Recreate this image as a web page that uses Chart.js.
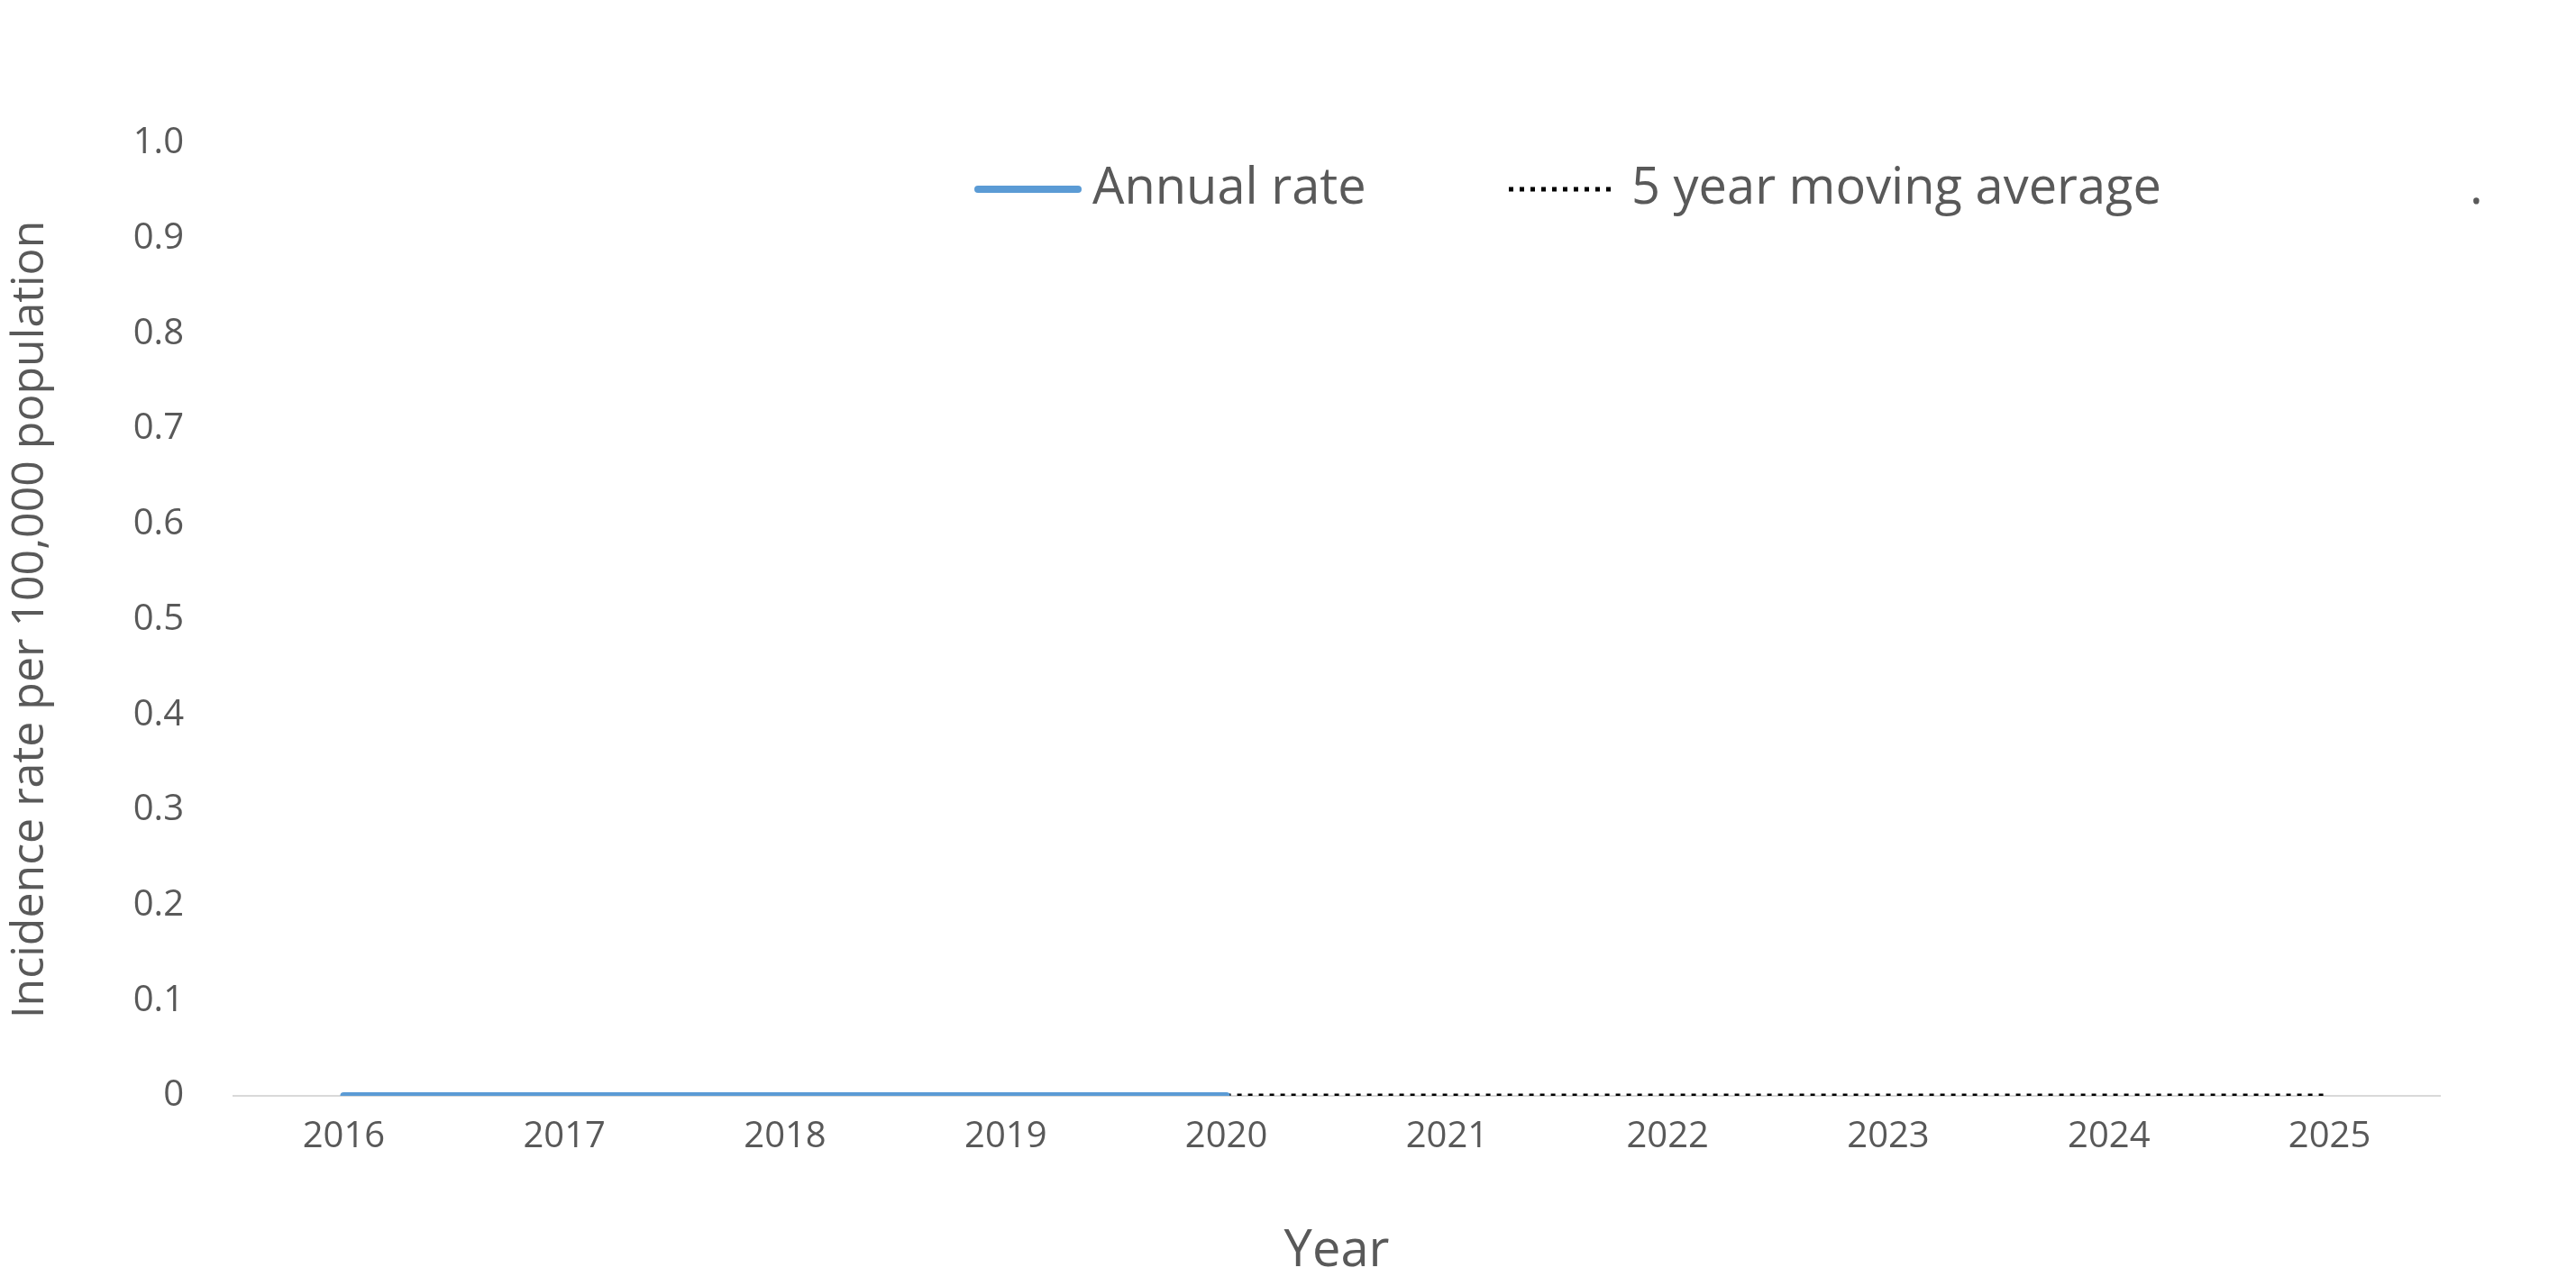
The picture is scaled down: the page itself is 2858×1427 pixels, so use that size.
<!DOCTYPE html>
<html><head><meta charset="utf-8">
<script src="https://cdn.jsdelivr.net/npm/chart.js@4"></script>
<style>html,body{margin:0;padding:0;background:#fff}#w{width:2858px;height:1427px}</style>
</head><body><div id="w"><canvas id="c"></canvas></div>
<script>
const years = ['2016','2017','2018','2019','2020','2021','2022','2023','2024','2025'];
const annualRate = [0,0,0,0,0,null,null,null,null,null];
const movingAvg = [null,null,null,null,0,0,0,0,0,0];
const yTicks = [0,0.1,0.2,0.3,0.4,0.5,0.6,0.7,0.8,0.9,1];
const FONT = "'Open Sans', 'Liberation Sans', sans-serif";
const legendPlugin = {
  id:'manualLegend',
  afterDraw(chart){
    const ctx = chart.ctx; ctx.save();
    ctx.font = "56px " + FONT; ctx.fillStyle = '#595959'; ctx.textBaseline='middle';
    const y = 210;
    ctx.strokeStyle = '#5b9bd5'; ctx.lineWidth = 8; ctx.lineCap='round';
    ctx.beginPath(); ctx.moveTo(1085,y); ctx.lineTo(1196,y); ctx.stroke();
    ctx.fillText(chart.data.datasets[0].label, 1212, y);
    ctx.strokeStyle = '#000'; ctx.lineWidth = 5; ctx.setLineDash([5,7]); ctx.lineCap='butt';
    ctx.beginPath(); ctx.moveTo(1674,y); ctx.lineTo(1790,y); ctx.stroke();
    ctx.fillText(chart.data.datasets[1].label, 1810, y);
    ctx.fillText(chart.data.datasets[2].label, 2740, y);
    ctx.restore();
  }
};
new Chart(document.getElementById('c'), {
  type:'line',
  data:{labels:years, datasets:[
    {label:'Annual rate', data:annualRate, borderColor:'#5b9bd5', borderWidth:8, pointRadius:0, borderCapStyle:'round'},
    {label:'5 year moving average', data:movingAvg, borderColor:'#000', borderWidth:5, borderDash:[5,7], pointRadius:0},
    {label:'.', data:[], borderColor:'rgba(0,0,0,0)'}
  ]},
  options:{
    responsive:true, maintainAspectRatio:false, animation:false,
    layout:{padding:{top:159,right:151,left:0,bottom:0}},
    plugins:{legend:{display:false}, tooltip:{enabled:false}},
    scales:{
      x:{offset:true, grid:{display:false, drawTicks:false}, border:{color:'#d9d9d9', width:2},
         ticks:{color:'#595959', font:{family:FONT, size:40}, padding:22},
         title:{display:true, text:'Year', color:'#595959', font:{family:FONT, size:56}, padding:{top:8}},
         afterFit(s){ s.height = 211; }},
      y:{min:0, max:1, afterBuildTicks(s){ s.ticks = yTicks.map(v=>({value:v})); },
         grid:{display:false, drawTicks:false}, border:{display:false},
         ticks:{color:'#595959', font:{family:FONT, size:40}, padding:55},
         title:{display:true, text:'Incidence rate per 100,000 population', color:'#595959', font:{family:FONT, size:50}, padding:{bottom:0}},
         afterFit(s){ s.width = 259; }}
    }
  },
  plugins:[legendPlugin]
});
</script></body></html>
